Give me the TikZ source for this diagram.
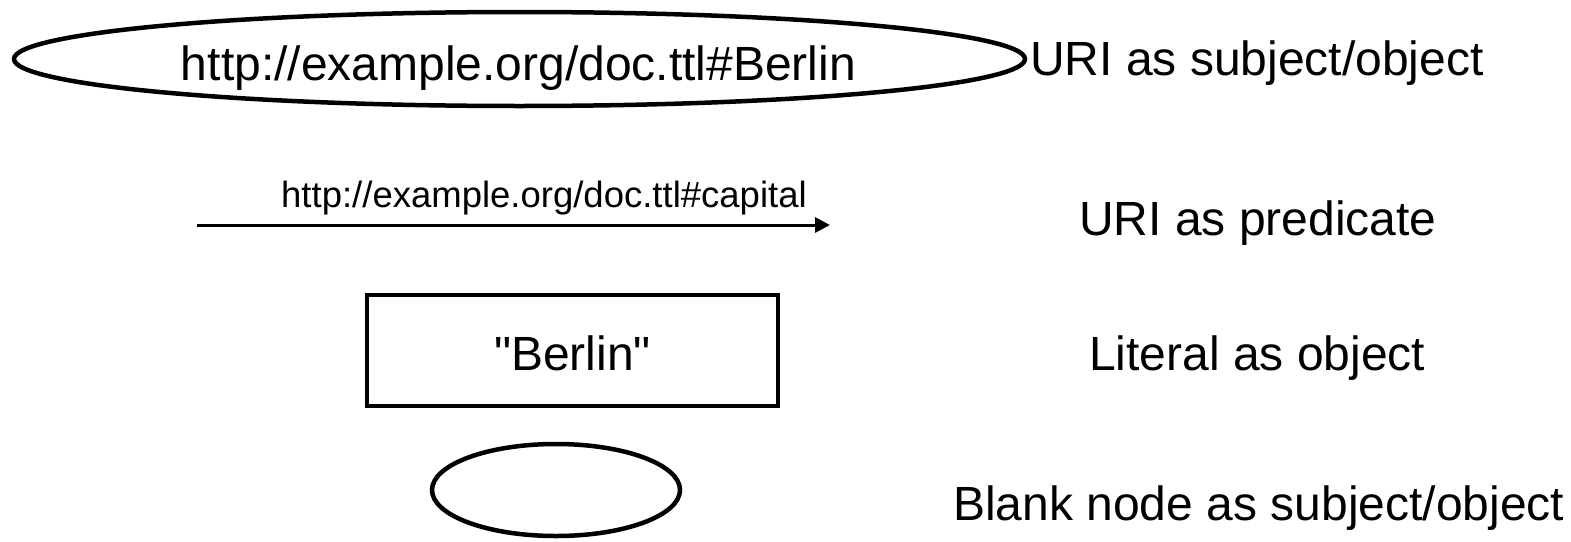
\documentclass[tikz,border=0pt]{standalone}
\usepackage{fontspec}
\setmainfont{Liberation Sans}
% plain family without TeX ligature mapping, so " stays a straight quote
\newfontfamily\labelfont{Liberation Sans}
\usetikzlibrary{shapes.geometric,arrows.meta}
\begin{document}
\begin{tikzpicture}[x=1pt,y=-1pt,
  shapeline/.style={draw=black,line width=4.5pt,inner sep=0pt},
  bigtext/.style={font=\labelfont\fontsize{48}{58}\selectfont,inner sep=0pt},
  smalltext/.style={font=\labelfont\fontsize{36.5}{44}\selectfont,inner sep=0pt},
  legend/.style={bigtext,anchor=base west},
  predarrow/.style={line width=3pt,-{Triangle[length=15pt,width=15pt]}}]
\useasboundingbox[fill=white] (0,0) rectangle (1571,541);

% URI resource
\node[shapeline,ellipse,minimum width=1011pt,minimum height=94pt] (urinode) at (519.5,59) {};
\node[bigtext,anchor=base] (uritext) at (518.5,80) {http://example.org/doc.ttl\#Berlin};

% predicate arrow
\coordinate (predstart) at (197,225);
\coordinate (predend) at (830,225);
\draw[predarrow] (predstart) -- (predend);
\node[smalltext,anchor=base west] (predtext) at (281,207) {http://example.org/doc.ttl\#capital};

% literal
\node[shapeline,rectangle,minimum width=411pt,minimum height=111pt] (litnode) at (572.5,350.5) {};
\node[bigtext,anchor=base] (littext) at (572.5,370) {"Berlin"};

% blank node
\node[shapeline,ellipse,minimum width=248pt,minimum height=92pt] (blanknode) at (556,490) {};

% legend texts
\node[legend] (leguri) at (1030,75) {URI as subject/object};
\node[legend] (legpred) at (1079,235) {URI as predicate};
\node[legend] (leglit) at (1089,370) {Literal as object};
\node[legend] (legblank) at (953,520) {Blank node as subject/object};
\end{tikzpicture}
\end{document}
